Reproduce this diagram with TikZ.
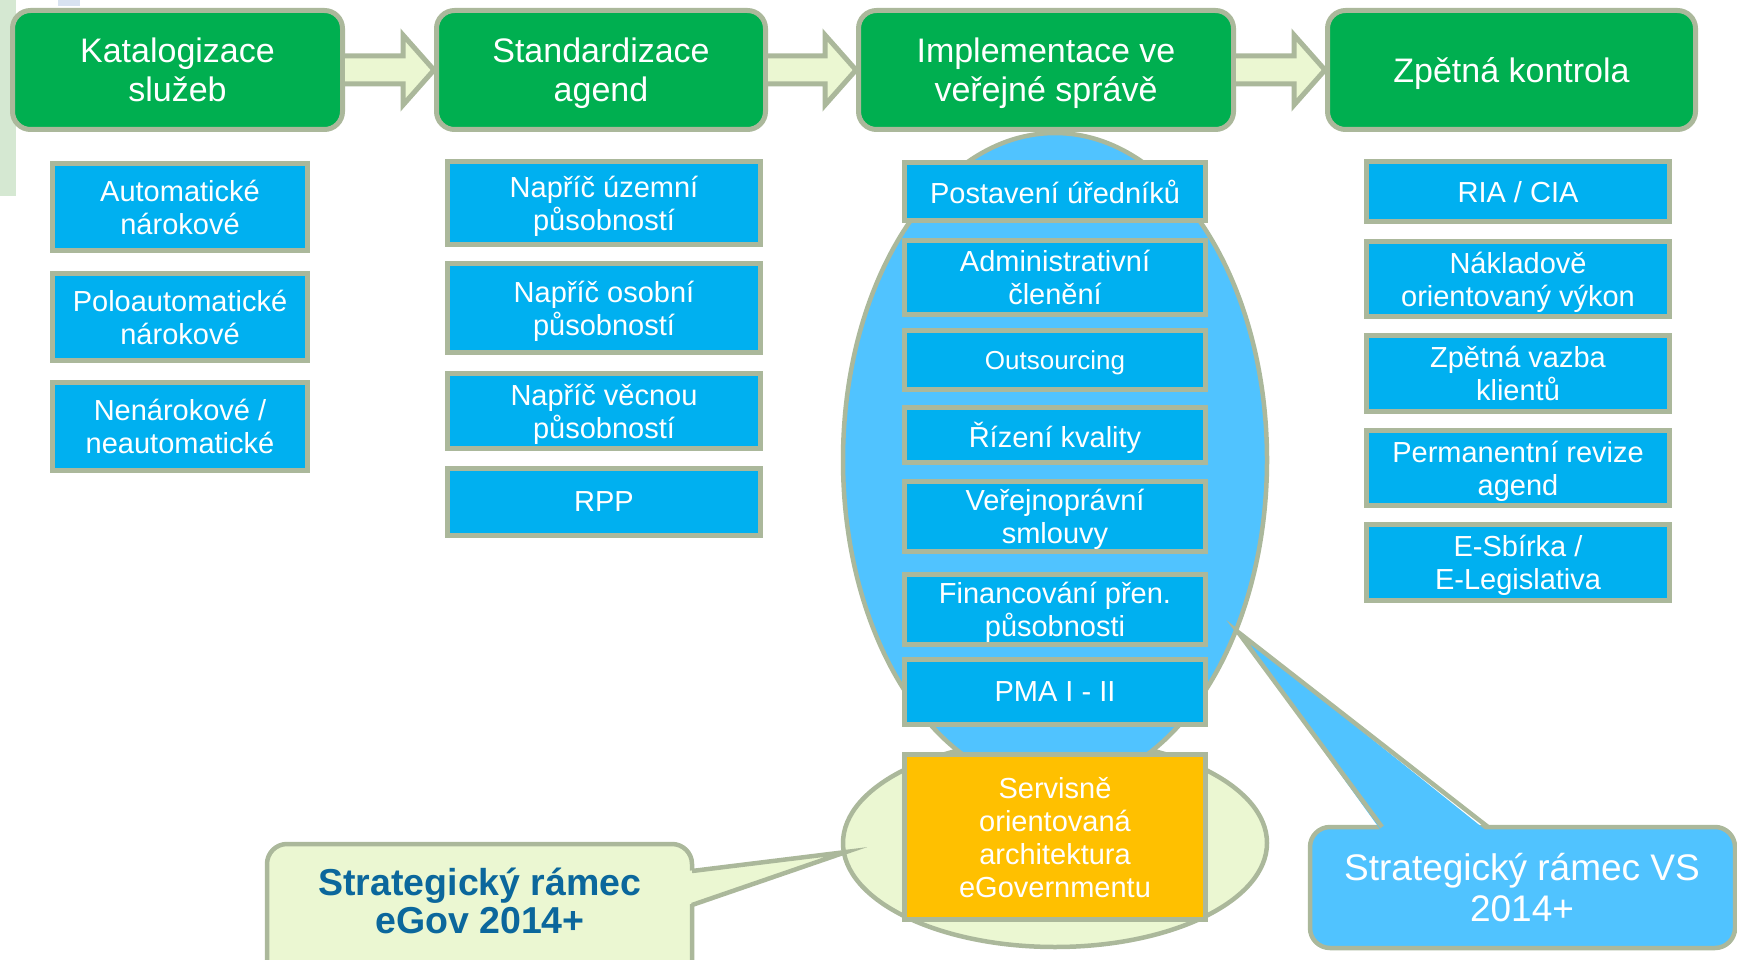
\documentclass[tikz,border=0pt]{standalone}
\usepackage{fontspec}
\setmainfont{Liberation Sans}
\usetikzlibrary{calc}

\definecolor{leafgreen}{HTML}{00AF50}
\definecolor{rimgray}{HTML}{ABB89B}
\definecolor{boxblue}{HTML}{00B0F0}
\definecolor{skyblue}{HTML}{50C3FF}
\definecolor{palegreen}{HTML}{EBF7D2}
\definecolor{amber}{HTML}{FFC000}
\definecolor{navytext}{HTML}{0B679C}
\definecolor{stripgreen}{HTML}{D5E8D2}
\definecolor{stripblue}{HTML}{D8E2F0}

\newcommand\flowarrow[2]{%
  \path[fill=palegreen] let \p1=(#1.east), \p2=(#2.west) in
    (\x1,\y1+14pt) -- (\x2-31pt,\y1+14pt) -- (\x2-31pt,\y1+35pt) -- (\x2,\y1)
    -- (\x2-31pt,\y1-35pt) -- (\x2-31pt,\y1-14pt) -- (\x1,\y1-14pt) -- cycle;
  \draw[draw=rimgray, line width=5pt, line join=miter] let \p1=(#1.east), \p2=(#2.west) in
    (\x1,\y1+14pt) -- (\x2-31pt,\y1+14pt) -- (\x2-31pt,\y1+35pt) -- (\x2,\y1)
    -- (\x2-31pt,\y1-35pt) -- (\x2-31pt,\y1-14pt) -- (\x1,\y1-14pt);}

\begin{document}
\begin{tikzpicture}[x=1pt, y=-1pt,
  phase/.style={draw=rimgray, line width=5pt, fill=leafgreen, rounded corners=18pt,
    text=white, align=center, inner sep=0pt, text depth=0pt, font=\fontsize{34}{39}\selectfont},
  item/.style={draw=rimgray, line width=5pt, fill=boxblue, text=white, align=center,
    inner sep=0pt, text depth=0pt, font=\fontsize{29}{33}\selectfont},
  rim/.style={draw=rimgray, line width=4.5pt}]
\useasboundingbox (0,0) rectangle (1737,960);

\fill[stripgreen] (0,0) rectangle (16,196);
\fill[stripblue] (58,0) rectangle (80,6);

\draw[rim, fill=palegreen] (1055,843) ellipse [x radius=212pt, y radius=104pt];
\draw[rim, fill=skyblue] (1055,460) ellipse [x radius=212pt, y radius=327pt];

\node[phase, minimum width=330pt, minimum height=119pt] (kat) at (177.5,70) {Katalogizace\\služeb};
\node[phase, minimum width=329pt, minimum height=119pt] (std) at (601,70) {Standardizace\\agend};
\node[phase, minimum width=375pt, minimum height=119pt] (impl) at (1046,70) {Implementace ve\\veřejné správě};
\node[phase, minimum width=368pt, minimum height=119pt] (zpet) at (1511.5,70) {Zpětná kontrola};

\flowarrow{kat}{std}
\flowarrow{std}{impl}
\flowarrow{impl}{zpet}

\node[item, minimum width=255pt, minimum height=87pt] (auto) at (180,207) {Automatické\\nárokové};
\node[item, minimum width=255pt, minimum height=87pt] (poloauto) at (180,317) {Poloautomatické\\nárokové};
\node[item, minimum width=255pt, minimum height=88pt] (nenarok) at (180,426.5) {Nenárokové /\\neautomatické};

\node[item, minimum width=313pt, minimum height=83pt] (uzemni) at (604,203) {Napříč územní\\působností};
\node[item, minimum width=313pt, minimum height=89pt] (osobni) at (604,308) {Napříč osobní\\působností};
\node[item, minimum width=313pt, minimum height=75pt] (vecnou) at (604,411) {Napříč věcnou\\působností};
\node[item, minimum width=313pt, minimum height=67pt] (rpp) at (604,502) {RPP};

\node[item, minimum width=301pt, minimum height=58pt] (urednici) at (1055,191.5) {Postavení úředníků};
\node[item, minimum width=301pt, minimum height=74pt] (cleneni) at (1055,277.5) {Administrativní\\členění};
\node[item, minimum width=301pt, minimum height=59pt, font=\fontsize{26}{30}\selectfont] (outsrc) at (1055,360) {Outsourcing};
\node[item, minimum width=301pt, minimum height=55pt] (kvalita) at (1055,435) {Řízení kvality};
\node[item, minimum width=301pt, minimum height=70pt] (smlouvy) at (1055,516.5) {Veřejnoprávní\\smlouvy};
\node[item, minimum width=301pt, minimum height=70pt] (financ) at (1055,609.5) {Financování přen.\\působnosti};
\node[item, minimum width=301pt, minimum height=65pt] (pma) at (1055,692) {PMA I - II};
\node[item, fill=amber, minimum width=301pt, minimum height=165pt] (soa) at (1055,837) {Servisně\\orientovaná\\architektura\\eGovernmentu};

\node[item, minimum width=303pt, minimum height=60pt] (ria) at (1518,191.5) {RIA / CIA};
\node[item, minimum width=303pt, minimum height=75pt] (naklady) at (1518,279) {Nákladově\\orientovaný výkon};
\node[item, minimum width=303pt, minimum height=76pt] (klienti) at (1518,373.5) {Zpětná vazba\\klientů};
\node[item, minimum width=303pt, minimum height=75pt] (revize) at (1518,468) {Permanentní revize\\agend};
\node[item, minimum width=303pt, minimum height=76pt] (sbirka) at (1518,562.5) {E-Sbírka /\\E-Legislativa};

\coordinate (egovtip) at (846,852);
\coordinate (vstip) at (1238,632);

\draw[rim, fill=palegreen, rounded corners=20pt] (267,844) rectangle (692,990);
\fill[palegreen] (687,871) -- (egovtip) -- (687,905) -- cycle;
\draw[rim, line join=miter] (692,871) -- (egovtip) -- (692,905);
\node[font=\bfseries\fontsize{37.5}{38}\selectfont, text=navytext, align=center, text depth=0pt] (egov) at (480,900.5) {Strategický rámec\\eGov 2014+};

\draw[rim, fill=skyblue, rounded corners=20pt] (1310,827) rectangle (1735,948);
\fill[skyblue] (1382,832) -- (vstip) -- (1488,832) -- cycle;
\draw[rim, line join=miter] (1382,827) -- (vstip) -- (1488,827);
\node[font=\fontsize{37}{41}\selectfont, text=white, align=center, text depth=0pt] (vs) at (1522,887) {Strategický rámec VS\\2014+};
\end{tikzpicture}
\end{document}
